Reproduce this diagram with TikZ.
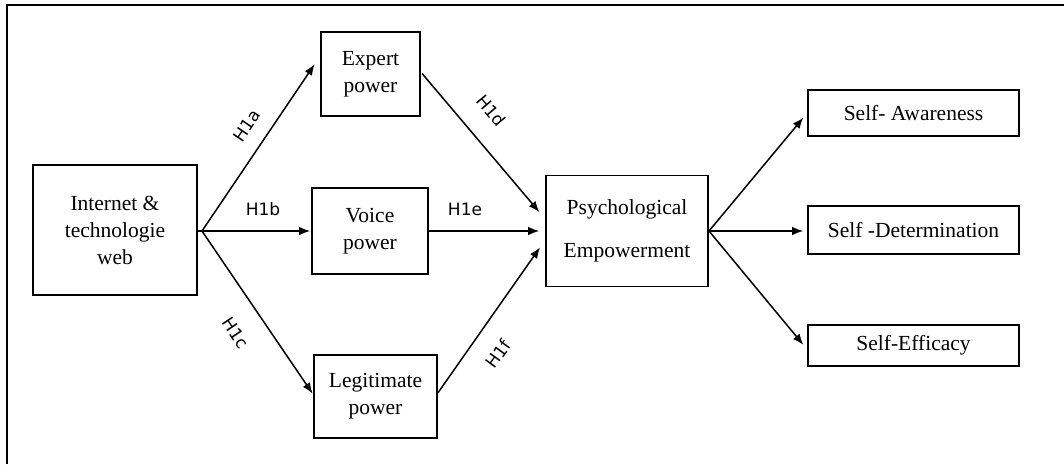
\documentclass[tikz,border=0pt]{standalone}
\usepackage{fontspec}
\setmainfont{Liberation Serif}
\newfontfamily\labfont{DejaVu Sans}
\usetikzlibrary{arrows.meta}
\begin{document}
\begin{tikzpicture}[x=1pt,y=-1pt,
  box/.style={draw,line width=1.6pt,inner sep=0pt,align=center,
    font=\fontsize{21.5}{27}\selectfont},
  arr/.style={line width=1.5pt,-{Latex[length=11pt,width=8.5pt]}},
  hlab/.style={font=\labfont\fontsize{17}{19}\selectfont,inner sep=0pt}]
\useasboundingbox (0,0) rectangle (1064,464);
\draw[line width=1.6pt] (7,464) -- (7,5) -- (1064,5);
% nodes
\node[box,minimum width=164pt,minimum height=130pt] (inet) at (115,230) {Internet \&\\technologie\\web};
\node[box,minimum width=99pt,minimum height=84pt] (expert) at (370.5,74) {Expert\\power};
\node[box,minimum width=116pt,minimum height=86pt] (voice) at (370,231) {Voice\\power};
\node[box,minimum width=123pt,minimum height=83pt] (legit) at (375.5,396.5) {Legitimate\\power};
\node[box,minimum width=162pt,minimum height=111pt] (psych) at (627,231) {Psychological\\[16pt]Empowerment};
\node[box,minimum width=211pt,minimum height=46pt] (aware) at (913.5,113) {Self- Awareness};
\node[box,minimum width=211pt,minimum height=48pt] (determ) at (913.5,230) {Self -Determination};
\node[box,minimum width=211pt,minimum height=41pt] (eff) at (913.5,345.5) {Self-Efficacy};
\coordinate (hubL) at (202,231);
\coordinate (hubR) at (709,231);
% left connectors
\draw[line width=1.5pt] (inet.east |- hubL) -- (hubL);
\draw[line width=1.5pt] (psych.east |- hubR) -- (hubR);
\draw[arr,shorten >=10pt] (hubL) -- ([yshift=18pt]expert.west);
\draw[arr,shorten >=1pt] (hubL) -- (hubL -| voice.west);
\draw[arr,shorten >=1pt] (hubL) -- ([yshift=2pt]legit.west);
\draw[arr,shorten <=2pt,shorten >=9pt] ([yshift=2pt]expert.east) -- ([yshift=12pt]psych.west);
\draw[arr,shorten >=6pt] (voice.east) -- (psych.west);
\draw[arr,shorten >=9pt] ([yshift=3.5pt]legit.east) -- ([yshift=-9pt]psych.west);
% right connectors
\draw[arr,shorten >=6pt] (hubR) -- (aware.west);
\draw[arr,shorten >=4pt] (hubR) -- (hubR -| determ.west);
\draw[arr,shorten >=6pt] (hubR) -- ([yshift=-4pt]eff.west);
% labels
\node[hlab,rotate=56] (la) at (247,126) {H1a};
\node[hlab] (lb) at (263,209) {H1b};
\node[hlab,rotate=-56] (lc) at (236,333) {H1c};
\node[hlab,rotate=-50] (ld) at (491,111) {H1d};
\node[hlab] (le) at (465,209) {H1e};
\node[hlab,rotate=54] (lf) at (498,354) {H1f};
\end{tikzpicture}
\end{document}
